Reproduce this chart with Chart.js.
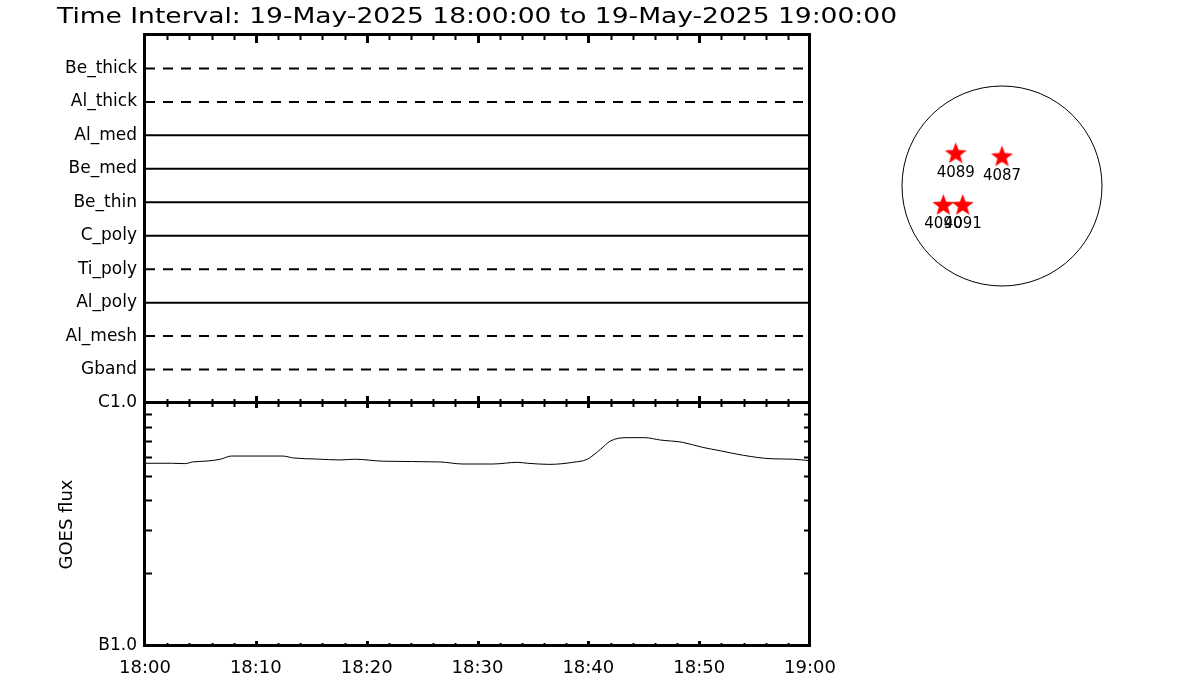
<!DOCTYPE html>
<html>
<head>
<meta charset="utf-8">
<script src="https://cdn.jsdelivr.net/npm/chart.js@4.4.1/dist/chart.umd.min.js"></script>
<style>
  body { margin: 0; background: #fff; overflow: hidden; }
  #main { position: absolute; left: 0; top: 0; }
  #disk { position: absolute; left: 892px; top: 76px; }
</style>
</head>
<body>
<canvas id="main" width="1200" height="700"></canvas>
<canvas id="disk" width="220" height="220"></canvas>
<script>
// filter channels, bottom to top
const channels = ['Gband', 'Al_mesh', 'Al_poly', 'Ti_poly', 'C_poly', 'Be_thin', 'Be_med', 'Al_med', 'Al_thick', 'Be_thick'];
const channelDashed = [true, true, false, true, false, false, false, false, true, true];

// GOES flux, minutes after 18:00
const goesMinutes = [0, 2.4, 3.6, 4.3, 5.6, 6.8, 7.8, 12.4, 13.4, 15.5, 17.6, 18.9, 21.5, 26.6, 28.7, 31.4, 33.6, 34.5, 36.5, 38.6, 39.9, 41.1, 42.0, 43.5, 45.1, 46.5, 48.5, 50.3, 51.9, 54.0, 56.4, 58.5, 60];
const goesFlux = [5.65e-7, 5.65e-7, 5.63e-7, 5.72e-7, 5.77e-7, 5.87e-7, 6.05e-7, 6.05e-7, 5.94e-7, 5.88e-7, 5.83e-7, 5.87e-7, 5.76e-7, 5.72e-7, 5.61e-7, 5.61e-7, 5.70e-7, 5.65e-7, 5.59e-7, 5.70e-7, 5.87e-7, 6.45e-7, 6.98e-7, 7.20e-7, 7.20e-7, 7.04e-7, 6.89e-7, 6.57e-7, 6.36e-7, 6.09e-7, 5.90e-7, 5.87e-7, 5.79e-7];

const timeLabels = ['18:00', '18:10', '18:20', '18:30', '18:40', '18:50', '19:00'];
const titleText = 'Time Interval: 19-May-2025 18:00:00 to 19-May-2025 19:00:00';

// active regions on the disk (arcsec)
const arNumbers = ['4089', '4087', '4090', '4091'];
const arX = [-444, 0, -563, -377];
const arY = [308, 278, -188, -188];
const limbRadius = 960;

const FONT = "'DejaVu Sans', sans-serif";

const channelSets = channels.map((name, i) => ({
    label: name,
    data: [{ x: 0, y: i + 1 }, { x: 60, y: i + 1 }],
    yAxisID: 'yTop',
    borderColor: '#000',
    borderWidth: 2,
    borderDash: channelDashed[i] ? [10, 8] : [],
    pointRadius: 0
}));

const goesSet = {
    label: 'GOES',
    data: goesMinutes.map((m, i) => ({ x: m, y: goesFlux[i] })),
    yAxisID: 'yBot',
    borderColor: '#000',
    borderWidth: 1,
    pointRadius: 0,
    cubicInterpolationMode: 'monotone'
};

// frame + inward tick marks + title
const framePlugin = {
    id: 'frame',
    afterDraw(chart) {
        const ctx = chart.ctx;
        const { left, right } = chart.chartArea;
        const x = chart.scales.x, yT = chart.scales.yTop, yB = chart.scales.yBot;
        ctx.save();
        ctx.strokeStyle = '#000';

        // tick marks every 2 min, major every 10
        for (let m = 2; m < 60; m += 2) {
            const px = Math.round(x.getPixelForValue(m)) + 0.5;
            const major = m % 10 === 0;
            ctx.lineWidth = major ? 3 : 2;
            const marks = [
                [yT.top, major ? 8 : 5],
                [yT.bottom, major ? -7 : -4],
                [yB.top, major ? 5 : 4],
                [yB.bottom, major ? -5 : -3]
            ];
            ctx.beginPath();
            marks.forEach(([y0, len]) => { ctx.moveTo(px, y0); ctx.lineTo(px, y0 + len); });
            ctx.stroke();
        }

        // log minor ticks (2..9 x 1e-7) on both sides of lower panel
        ctx.lineWidth = 2;
        ctx.beginPath();
        yB.ticks.forEach(t => {
            const k = t.value / yB.min;
            if (Math.abs(k - Math.round(k)) > 1e-6 || k < 1.5 || k > 9.5) return;
            const py = Math.round(yB.getPixelForValue(t.value)) + 0.5;
            ctx.moveTo(left, py); ctx.lineTo(left + 7, py);
            ctx.moveTo(right, py); ctx.lineTo(right - 6, py);
        });
        ctx.stroke();

        // panel borders
        ctx.lineWidth = 3;
        ctx.strokeRect(left - 0.5, yT.top - 0.5, right - left, yT.bottom - yT.top);
        ctx.strokeRect(left - 0.5, yB.top - 0.5, right - left, yB.bottom - yB.top);

        // title, stretched to the reference width
        ctx.fillStyle = '#000';
        ctx.font = '21px ' + FONT;
        ctx.textBaseline = 'alphabetic';
        ctx.textAlign = 'left';
        const w0 = ctx.measureText(titleText).width;
        ctx.translate(57, 23);
        ctx.scale(840 / w0, 1);
        ctx.fillText(titleText, 0, 0);
        ctx.restore();
    }
};

new Chart(document.getElementById('main'), {
    type: 'line',
    data: { datasets: [...channelSets, goesSet] },
    options: {
        responsive: false,
        animation: false,
        layout: { padding: { left: 50, right: 390, top: 35, bottom: 24 }, autoPadding: false },
        plugins: { legend: { display: false }, tooltip: { enabled: false } },
        scales: {
            x: {
                type: 'linear', min: 0, max: 60,
                grid: { display: false, drawTicks: false },
                border: { display: false },
                ticks: {
                    stepSize: 10, padding: 12, color: '#000',
                    font: { family: FONT, size: 18 },
                    callback: v => timeLabels[v / 10]
                },
                afterFit: s => { s.height = 30; }
            },
            yBot: {
                type: 'logarithmic', position: 'left', stack: 'left', stackWeight: 243,
                min: 1e-7, max: 1e-6,
                grid: { display: false, drawTicks: false },
                border: { display: false },
                ticks: {
                    autoSkip: false, padding: 8, color: '#000',
                    font: { family: FONT, size: 17 },
                    callback: v => {
                        const e = Math.log10(v);
                        if (Math.abs(e + 7) < 1e-6) return 'B1.0';
                        if (Math.abs(e + 6) < 1e-6) return 'C1.0';
                        return '';
                    }
                },
                title: {
                    display: true, text: 'GOES flux', color: '#000',
                    font: { family: FONT, size: 18 },
                    padding: { top: 7, bottom: 4 }
                },
                afterFit: s => { s.width = 95; }
            },
            yTop: {
                type: 'linear', position: 'left', stack: 'left', stackWeight: 368,
                min: 0, max: 11,
                grid: { display: false, drawTicks: false },
                border: { display: false },
                ticks: {
                    stepSize: 1, autoSkip: false, padding: 8, color: '#000',
                    font: { family: FONT, size: 17 },
                    callback: v => channels[v - 1] || ''
                },
                afterFit: s => { s.width = 95; }
            }
        }
    },
    plugins: [framePlugin]
});

// solar disk with active regions
function makeStar(r, color) {
    const c = document.createElement('canvas');
    const s = Math.ceil(r * 2 + 4);
    c.width = s; c.height = s;
    const g = c.getContext('2d');
    g.fillStyle = color;
    g.beginPath();
    for (let i = 0; i < 10; i++) {
        const rad = i % 2 ? r * 0.42 : r;
        const a = -Math.PI / 2 + i * Math.PI / 5;
        g.lineTo(s / 2 + rad * Math.cos(a), s / 2 + rad * Math.sin(a));
    }
    g.closePath();
    g.fill();
    return c;
}

const diskPlugin = {
    id: 'disk',
    beforeDatasetsDraw(chart) {
        const { ctx, scales: { x, y } } = chart;
        const cx = x.getPixelForValue(0), cy = y.getPixelForValue(0);
        const r = x.getPixelForValue(limbRadius) - cx;
        ctx.save();
        ctx.strokeStyle = '#000';
        ctx.lineWidth = 1;
        ctx.beginPath();
        ctx.arc(cx, cy, r, 0, Math.PI * 2);
        ctx.stroke();
        ctx.restore();
    },
    afterDatasetsDraw(chart) {
        const ctx = chart.ctx;
        const meta = chart.getDatasetMeta(0);
        ctx.save();
        ctx.fillStyle = '#000';
        ctx.font = '15px ' + FONT;
        ctx.textAlign = 'center';
        ctx.textBaseline = 'middle';
        meta.data.forEach((p, i) => ctx.fillText(arNumbers[i], p.x, p.y + 19));
        ctx.restore();
    }
};

new Chart(document.getElementById('disk'), {
    type: 'scatter',
    data: {
        datasets: [{
            data: arX.map((v, i) => ({ x: v, y: arY[i] })),
            pointStyle: makeStar(11.5, '#ff0000')
        }]
    },
    options: {
        responsive: false,
        animation: false,
        layout: { padding: 0, autoPadding: false },
        plugins: { legend: { display: false }, tooltip: { enabled: false } },
        scales: {
            x: { type: 'linear', min: -1056, max: 1056, display: false },
            y: { type: 'linear', min: -1056, max: 1056, display: false }
        }
    },
    plugins: [diskPlugin]
});
</script>
</body>
</html>
